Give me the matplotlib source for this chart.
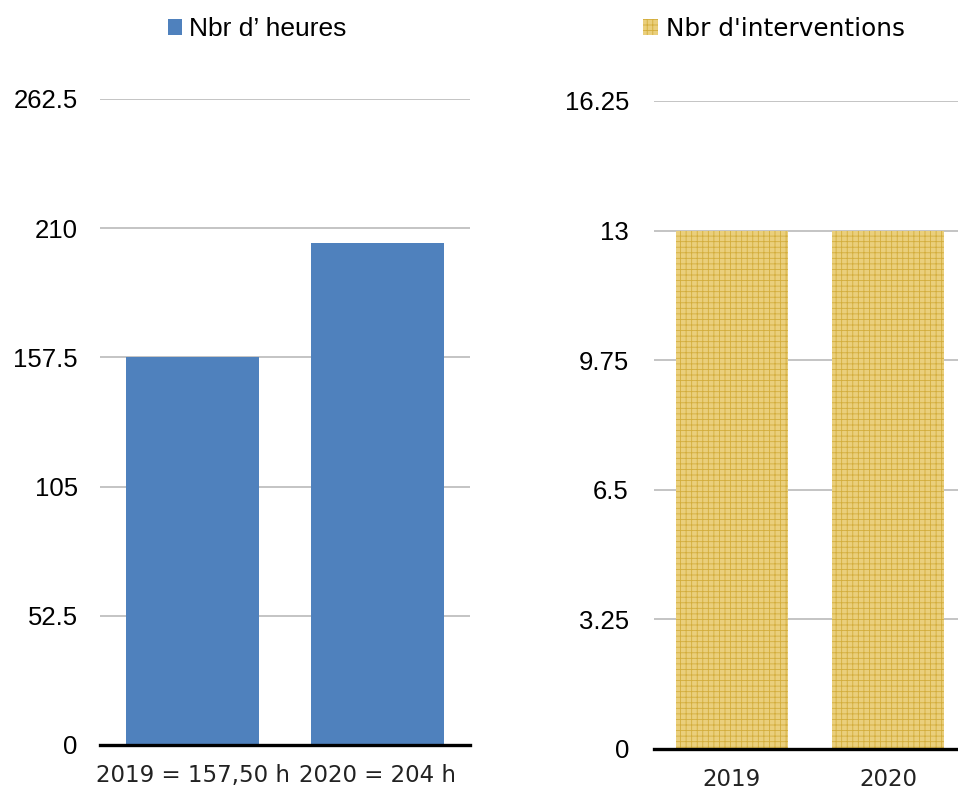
import matplotlib.pyplot as plt
from matplotlib.patches import Patch

# Data
years = ['2019', '2020']
hours = [157.5, 204]
hour_labels = ['2019 = 157,50 h', '2020 = 204 h']
interventions = [13, 13]

hours_ticks = [0, 52.5, 105, 157.5, 210, 262.5]
interv_ticks = [0, 3.25, 6.5, 9.75, 13, 16.25]

blue = '#4F81BD'
gold_face = '#EACF7C'
gold_line = '#D3AD3C'

plt.rcParams['hatch.linewidth'] = 0.6

W, H = 958, 795
fig = plt.figure(figsize=(W / 100, H / 100), dpi=100)

ax1 = fig.add_axes([100 / W, 50 / H, 370 / W, 646 / H])
ax2 = fig.add_axes([654 / W, 46 / H, 304 / W, 648 / H])


def style(ax, ticks, pad):
    ax.set_ylim(0, ticks[-1])
    ax.set_yticks(ticks)
    ax.set_yticklabels([str(t) for t in ticks])
    ax.grid(axis='y', color='#BFBFBF', linewidth=1.3)
    ax.set_axisbelow(True)
    for s in ['top', 'right', 'left']:
        ax.spines[s].set_visible(False)
    ax.spines['bottom'].set_color('black')
    ax.spines['bottom'].set_linewidth(2.4)
    ax.tick_params(axis='both', length=0)
    ax.tick_params(axis='y', pad=pad)
    ax.tick_params(axis='x', pad=14)
    for lab in ax.get_yticklabels():
        lab.set_fontfamily('Liberation Sans')
        lab.set_fontsize(18.5)
    for lab in ax.get_xticklabels():
        lab.set_fontfamily('DejaVu Sans')
        lab.set_fontsize(16.5)
        lab.set_color('#222222')


# Left chart: hours
x = range(len(years))
ax1.bar(x, hours, width=0.714, color=blue)
ax1.set_xlim(-0.5, 1.5)
ax1.set_xticks(list(x))
ax1.set_xticklabels(hour_labels)
style(ax1, hours_ticks, 16)

# Right chart: interventions
ax2.bar(x, interventions, width=0.718, facecolor=gold_face,
        edgecolor=gold_line, hatch='+++', linewidth=0)
ax2.set_xlim(-0.5, -0.5 + 304 / 156)
ax2.set_xticks(list(x))
ax2.set_xticklabels(years)
style(ax2, interv_ticks, 18)

# Legends
fig.legend(handles=[Patch(facecolor=blue)], labels=['Nbr d’ heures'],
           loc='center left', bbox_to_anchor=(144 / W, 1 - 29 / H),
           frameon=False, handlelength=0.55, handleheight=0.55,
           handletextpad=0.25, prop={'family': 'Liberation Sans', 'size': 19})
fig.legend(handles=[Patch(facecolor=gold_face, edgecolor=gold_line, hatch='+++', linewidth=0)],
           labels=["Nbr d'interventions"],
           loc='center left', bbox_to_anchor=(621 / W, 1 - 29 / H),
           frameon=False, handlelength=0.6, handleheight=0.6,
           handletextpad=0.3, prop={'family': 'DejaVu Sans', 'size': 17.8})

fig.savefig('out.png', dpi=100)
